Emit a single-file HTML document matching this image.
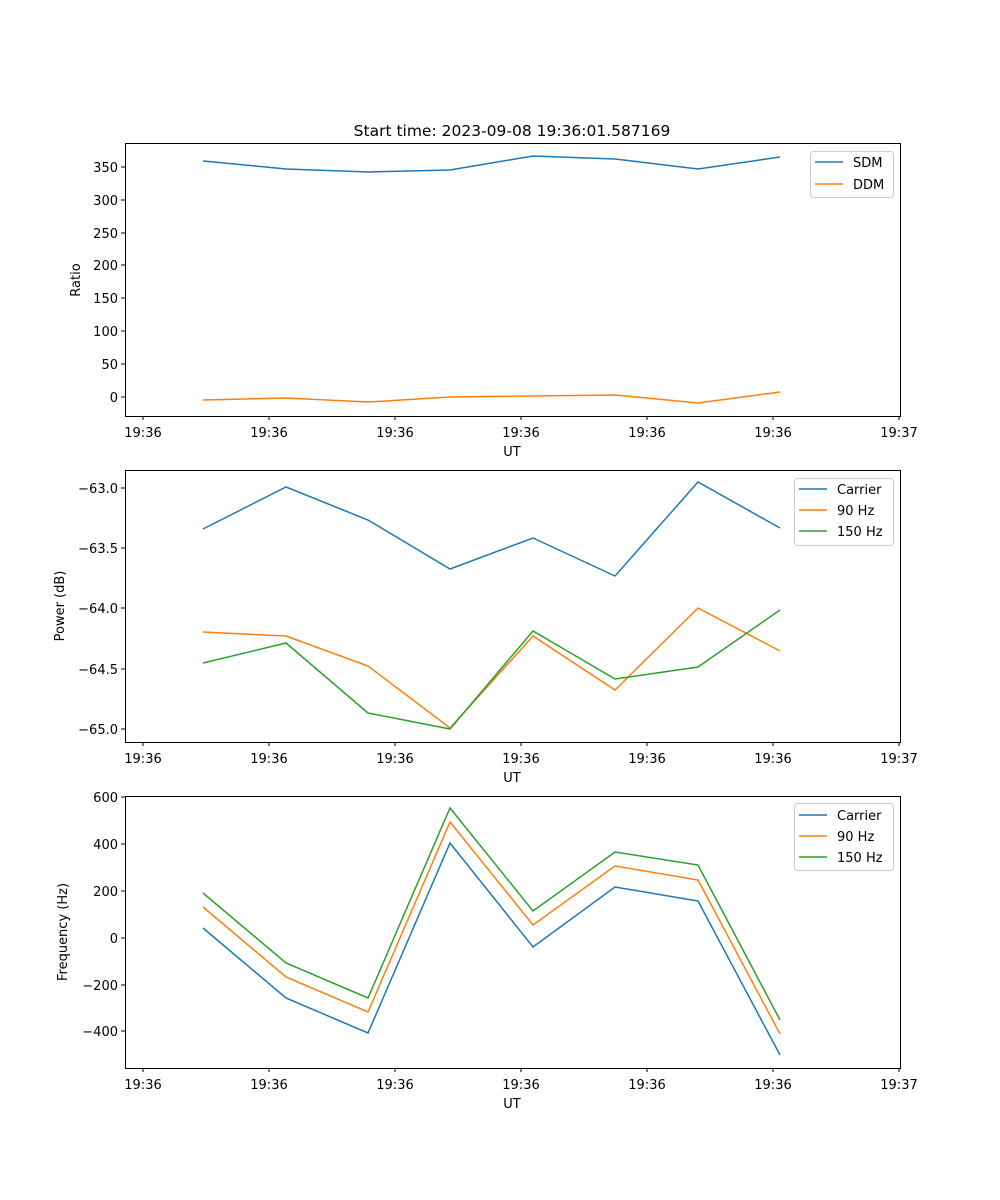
<!DOCTYPE html>
<html><head><meta charset="utf-8"><style>body{margin:0;background:#fff}svg{display:block}text{font-family:"DejaVu Sans","Liberation Sans",sans-serif;font-size:13px;fill:#000}</style></head>
<body>
<svg width="1000" height="1200" xmlns="http://www.w3.org/2000/svg">
<rect width="1000" height="1200" fill="#fff"/>
<text x="512" y="136" text-anchor="middle" font-size="15.5" style="font-size:15.5px">Start time: 2023-09-08 19:36:01.587169</text>

<!-- Plot 1 -->
<g>
<rect x="125.5" y="143.5" width="775" height="273" fill="none" stroke="#000"/>
<g stroke="#000">
<line x1="143" y1="416" x2="143" y2="420"/><line x1="269" y1="416" x2="269" y2="420"/><line x1="395" y1="416" x2="395" y2="420"/><line x1="521" y1="416" x2="521" y2="420"/><line x1="647" y1="416" x2="647" y2="420"/><line x1="773" y1="416" x2="773" y2="420"/><line x1="899" y1="416" x2="899" y2="420"/>
<line x1="121" y1="397" x2="125" y2="397"/><line x1="121" y1="364" x2="125" y2="364"/><line x1="121" y1="331" x2="125" y2="331"/><line x1="121" y1="298" x2="125" y2="298"/><line x1="121" y1="265" x2="125" y2="265"/><line x1="121" y1="233" x2="125" y2="233"/><line x1="121" y1="200" x2="125" y2="200"/><line x1="121" y1="167" x2="125" y2="167"/>
</g>
<g text-anchor="middle"><text x="143" y="437">19:36</text><text x="269" y="437">19:36</text><text x="395" y="437">19:36</text><text x="521" y="437">19:36</text><text x="647" y="437">19:36</text><text x="773" y="437">19:36</text><text x="899" y="437">19:37</text><text x="512" y="456">UT</text></g>
<g text-anchor="end"><text x="118" y="402">0</text><text x="118" y="369">50</text><text x="118" y="336">100</text><text x="118" y="303">150</text><text x="118" y="270">200</text><text x="118" y="238">250</text><text x="118" y="205">300</text><text x="118" y="172">350</text></g>
<text transform="translate(80,280) rotate(-90)" text-anchor="middle">Ratio</text>
<polyline fill="none" stroke="#1f77b4" stroke-width="1.5" points="203,161 286,169 368,172 450,170 533,156 615,159 698,169 780,157"/>
<polyline fill="none" stroke="#ff7f0e" stroke-width="1.5" points="203,400 286,398 368,402 450,397 533,396 615,395 698,403 780,392"/>
<rect x="810.5" y="151.5" width="83" height="46" rx="3" fill="#fff" stroke="#ccc"/>
<line x1="815" y1="162" x2="843" y2="162" stroke="#1f77b4" stroke-width="1.5"/><text x="853" y="167">SDM</text>
<line x1="815" y1="184" x2="843" y2="184" stroke="#ff7f0e" stroke-width="1.5"/><text x="853" y="189">DDM</text>
</g>

<!-- Plot 2 -->
<g>
<rect x="125.5" y="470.5" width="775" height="272" fill="none" stroke="#000"/>
<g stroke="#000">
<line x1="143" y1="742" x2="143" y2="746"/><line x1="269" y1="742" x2="269" y2="746"/><line x1="395" y1="742" x2="395" y2="746"/><line x1="521" y1="742" x2="521" y2="746"/><line x1="647" y1="742" x2="647" y2="746"/><line x1="773" y1="742" x2="773" y2="746"/><line x1="899" y1="742" x2="899" y2="746"/>
<line x1="121" y1="488" x2="125" y2="488"/><line x1="121" y1="548" x2="125" y2="548"/><line x1="121" y1="608" x2="125" y2="608"/><line x1="121" y1="669" x2="125" y2="669"/><line x1="121" y1="729" x2="125" y2="729"/>
</g>
<g text-anchor="middle"><text x="143" y="763">19:36</text><text x="269" y="763">19:36</text><text x="395" y="763">19:36</text><text x="521" y="763">19:36</text><text x="647" y="763">19:36</text><text x="773" y="763">19:36</text><text x="899" y="763">19:37</text><text x="512" y="782">UT</text></g>
<g text-anchor="end"><text x="118" y="493">−63.0</text><text x="118" y="553">−63.5</text><text x="118" y="613">−64.0</text><text x="118" y="674">−64.5</text><text x="118" y="734">−65.0</text></g>
<text transform="translate(64,606) rotate(-90)" text-anchor="middle">Power (dB)</text>
<polyline fill="none" stroke="#1f77b4" stroke-width="1.5" points="203,529 286,487 368,520 450,569 533,538 615,576 698,482 780,528"/>
<polyline fill="none" stroke="#ff7f0e" stroke-width="1.5" points="203,632 286,636 368,666 450,728 533,636 615,690 698,608 780,651"/>
<polyline fill="none" stroke="#2ca02c" stroke-width="1.5" points="203,663 286,643 368,713 450,729 533,631 615,679 698,667 780,610"/>
<rect x="794.5" y="478.5" width="99" height="67" rx="3" fill="#fff" stroke="#ccc"/>
<line x1="799" y1="489" x2="827" y2="489" stroke="#1f77b4" stroke-width="1.5"/><text x="837" y="494">Carrier</text>
<line x1="799" y1="510" x2="827" y2="510" stroke="#ff7f0e" stroke-width="1.5"/><text x="837" y="515">90 Hz</text>
<line x1="799" y1="531" x2="827" y2="531" stroke="#2ca02c" stroke-width="1.5"/><text x="837" y="536">150 Hz</text>
</g>

<!-- Plot 3 -->
<g>
<rect x="125.5" y="796.5" width="775" height="272" fill="none" stroke="#000"/>
<g stroke="#000">
<line x1="143" y1="1068" x2="143" y2="1072"/><line x1="269" y1="1068" x2="269" y2="1072"/><line x1="395" y1="1068" x2="395" y2="1072"/><line x1="521" y1="1068" x2="521" y2="1072"/><line x1="647" y1="1068" x2="647" y2="1072"/><line x1="773" y1="1068" x2="773" y2="1072"/><line x1="899" y1="1068" x2="899" y2="1072"/>
<line x1="121" y1="797" x2="125" y2="797"/><line x1="121" y1="844" x2="125" y2="844"/><line x1="121" y1="891" x2="125" y2="891"/><line x1="121" y1="938" x2="125" y2="938"/><line x1="121" y1="985" x2="125" y2="985"/><line x1="121" y1="1031" x2="125" y2="1031"/>
</g>
<g text-anchor="middle"><text x="143" y="1089">19:36</text><text x="269" y="1089">19:36</text><text x="395" y="1089">19:36</text><text x="521" y="1089">19:36</text><text x="647" y="1089">19:36</text><text x="773" y="1089">19:36</text><text x="899" y="1089">19:37</text><text x="512" y="1108">UT</text></g>
<g text-anchor="end"><text x="118" y="802">600</text><text x="118" y="849">400</text><text x="118" y="896">200</text><text x="118" y="943">0</text><text x="118" y="990">−200</text><text x="118" y="1036">−400</text></g>
<text transform="translate(67,932) rotate(-90)" text-anchor="middle">Frequency (Hz)</text>
<polyline fill="none" stroke="#1f77b4" stroke-width="1.5" points="203,928 286,998 368,1033 450,843 533,947 615,887 698,901 780,1055"/>
<polyline fill="none" stroke="#ff7f0e" stroke-width="1.5" points="203,907 286,977 368,1012 450,822 533,925 615,866 698,880 780,1034"/>
<polyline fill="none" stroke="#2ca02c" stroke-width="1.5" points="203,893 286,963 368,998 450,808 533,911 615,852 698,865 780,1020"/>
<rect x="794.5" y="803.5" width="99" height="67" rx="3" fill="#fff" stroke="#ccc"/>
<line x1="799" y1="815" x2="827" y2="815" stroke="#1f77b4" stroke-width="1.5"/><text x="837" y="820">Carrier</text>
<line x1="799" y1="836" x2="827" y2="836" stroke="#ff7f0e" stroke-width="1.5"/><text x="837" y="841">90 Hz</text>
<line x1="799" y1="857" x2="827" y2="857" stroke="#2ca02c" stroke-width="1.5"/><text x="837" y="862">150 Hz</text>
</g>
</svg>
</body></html>
